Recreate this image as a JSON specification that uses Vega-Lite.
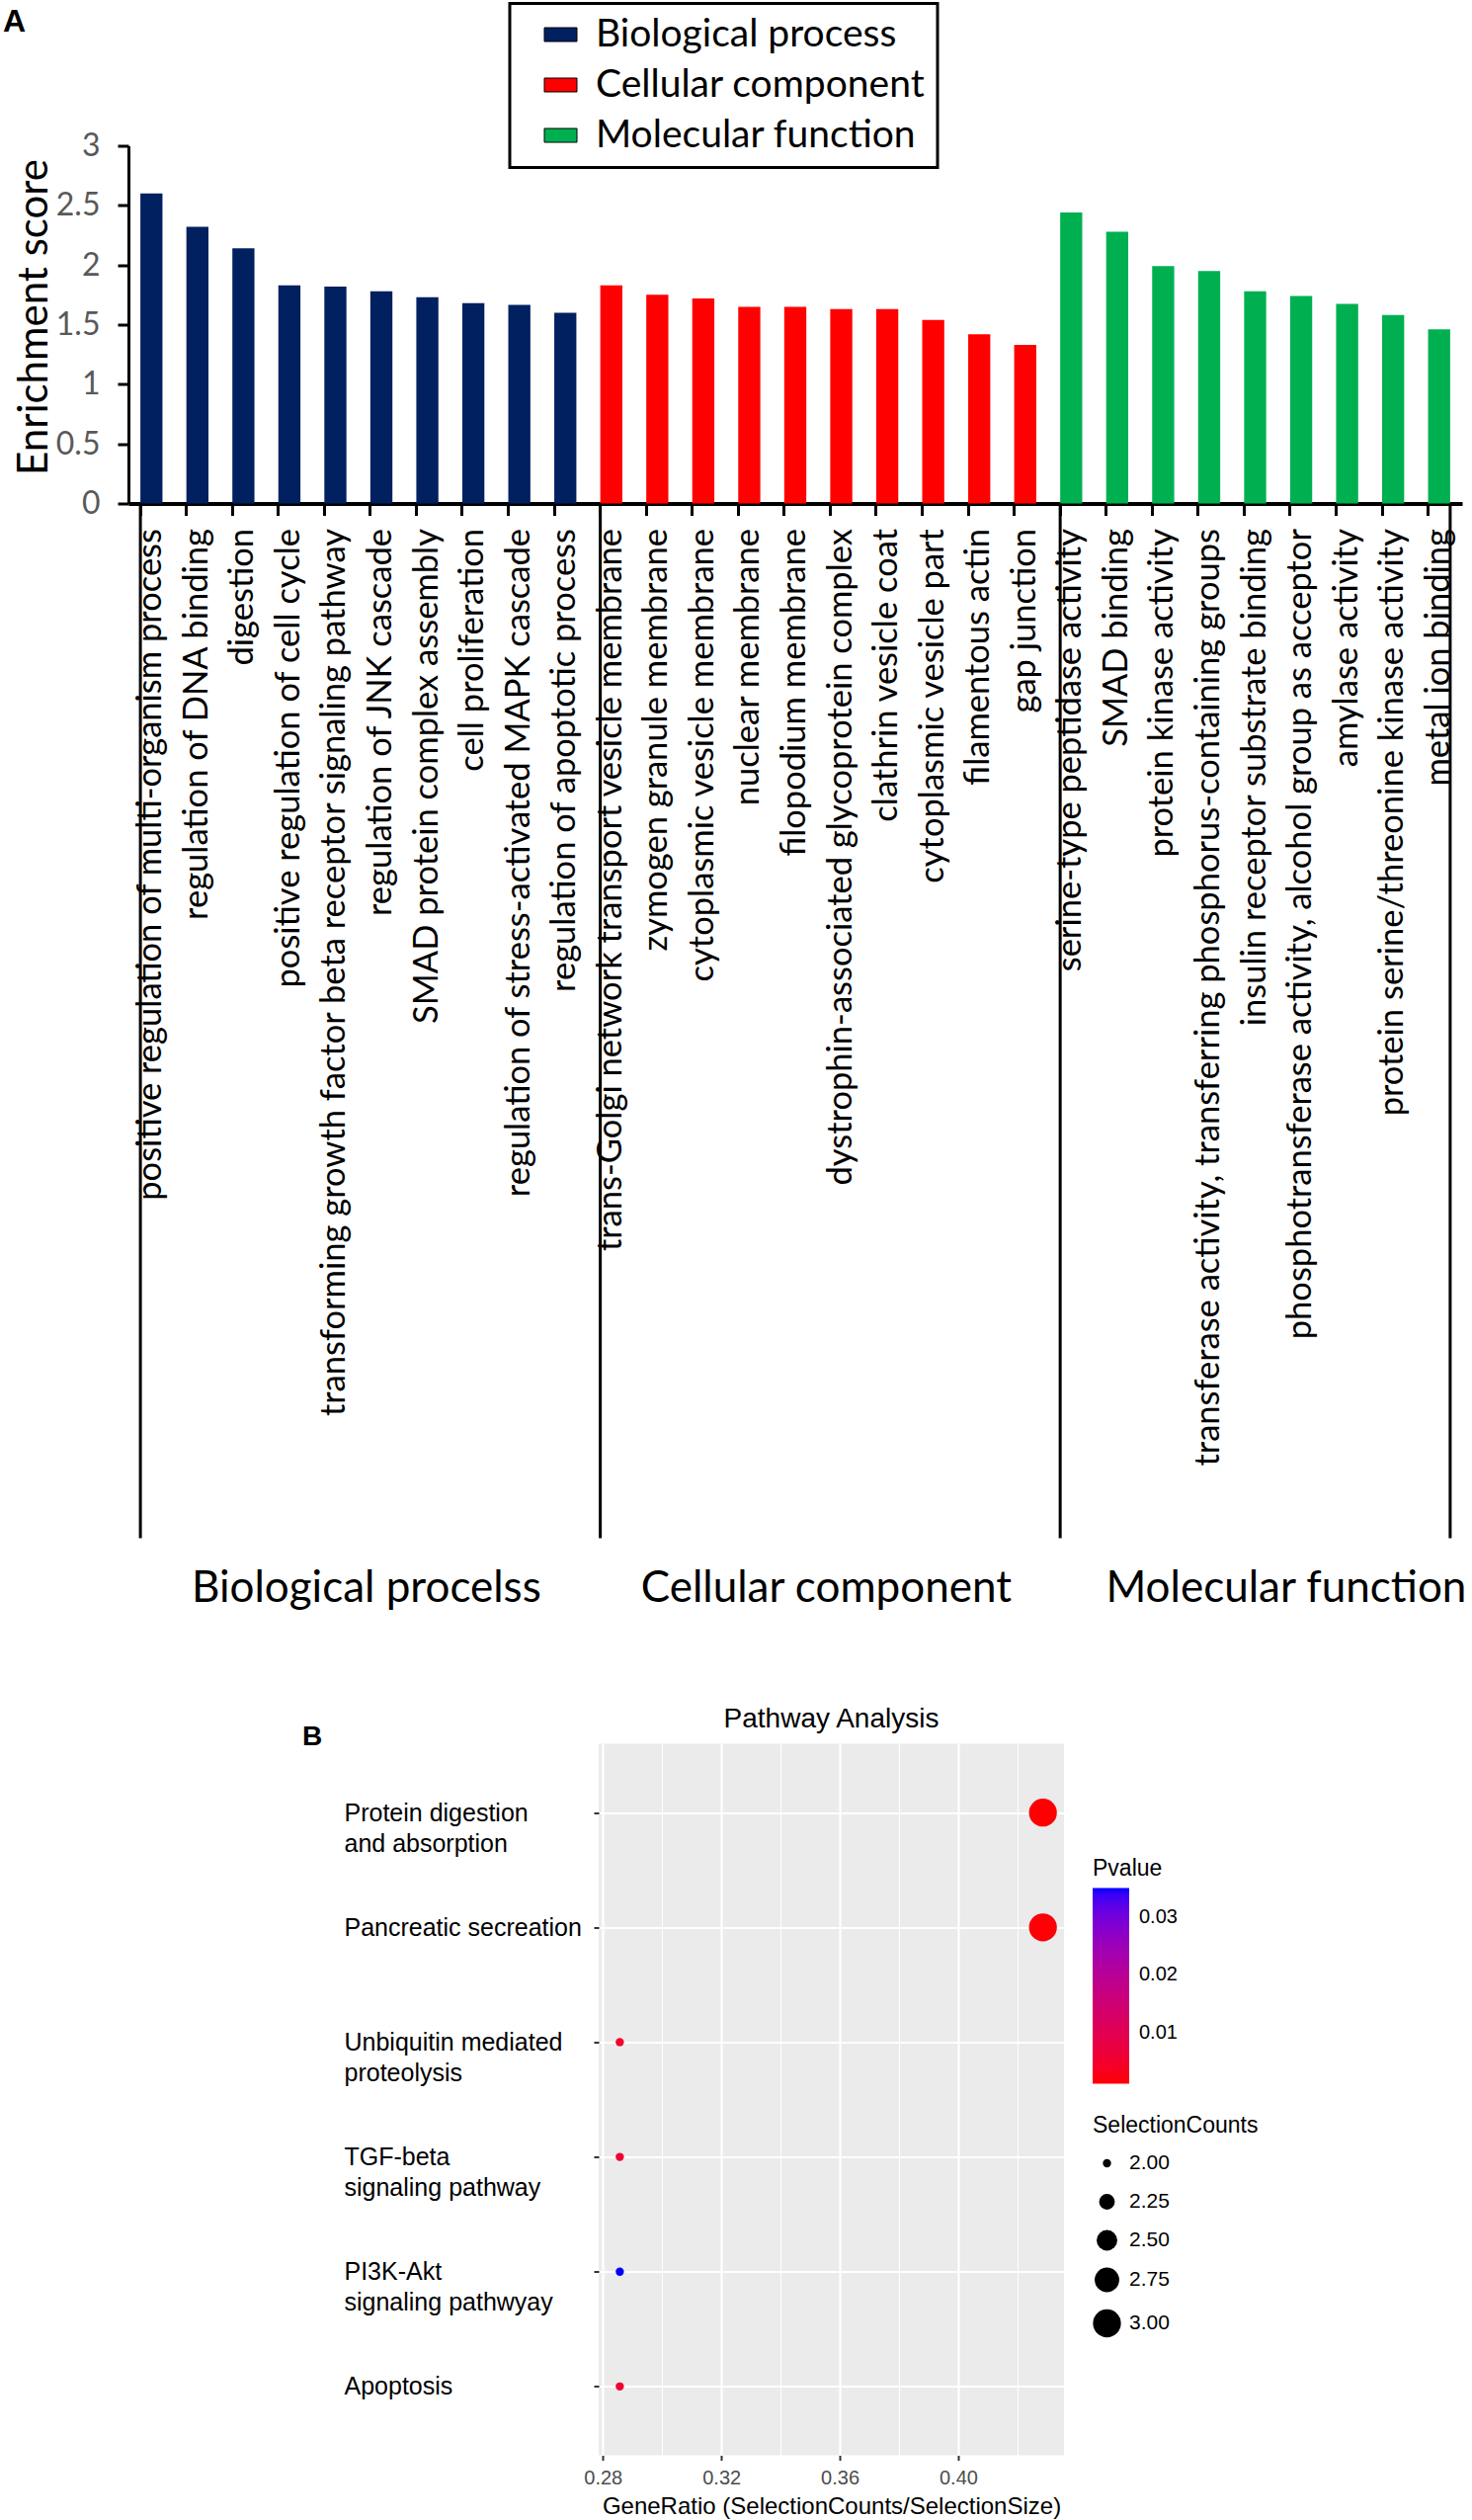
{
  "$schema": "https://vega.github.io/schema/vega-lite/v6.json",
  "background": "white",
  "padding": {"left": 3, "top": 1.5, "right": 0, "bottom": 0},
  "autosize": {"type": "pad"},
  "bounds": "flush",
  "spacing": 1255,
  "resolve": {"scale": {"color": "independent", "size": "independent"}, "legend": {"color": "independent", "size": "independent"}},
  "config": {"view": {"stroke": null}, "legend": {"strokeWidth": 3}},
  "vconcat": [
    {
      "width": 1350,
      "height": 362,
      "title": {"text": "A", "anchor": "start", "frame": "group", "font": "Liberation Sans", "fontSize": 32, "fontWeight": "bold", "color": "black", "baseline": "alphabetic", "offset": 0, "dx": -127, "dy": 62},
      "data": {"values": [
        {"term": "positive regulation of multi-organism process", "category": "Biological process", "score": 2.6},
        {"term": "regulation of DNA binding", "category": "Biological process", "score": 2.32},
        {"term": "digestion", "category": "Biological process", "score": 2.14},
        {"term": "positive regulation of cell cycle", "category": "Biological process", "score": 1.83},
        {"term": "transforming growth factor beta receptor signaling pathway", "category": "Biological process", "score": 1.82},
        {"term": "regulation of JNK cascade", "category": "Biological process", "score": 1.78, "header": "Biological procelss"},
        {"term": "SMAD protein complex assembly", "category": "Biological process", "score": 1.73},
        {"term": "cell proliferation", "category": "Biological process", "score": 1.68},
        {"term": "regulation of stress-activated MAPK cascade", "category": "Biological process", "score": 1.665},
        {"term": "regulation of apoptotic process", "category": "Biological process", "score": 1.6},
        {"term": "trans-Golgi network transport vesicle membrane", "category": "Cellular component", "score": 1.83},
        {"term": "zymogen granule membrane", "category": "Cellular component", "score": 1.75},
        {"term": "cytoplasmic vesicle membrane", "category": "Cellular component", "score": 1.72},
        {"term": "nuclear membrane", "category": "Cellular component", "score": 1.65},
        {"term": "filopodium membrane", "category": "Cellular component", "score": 1.65},
        {"term": "dystrophin-associated glycoprotein complex", "category": "Cellular component", "score": 1.63, "header": "Cellular component"},
        {"term": "clathrin vesicle coat", "category": "Cellular component", "score": 1.63},
        {"term": "cytoplasmic vesicle part", "category": "Cellular component", "score": 1.54},
        {"term": "filamentous actin", "category": "Cellular component", "score": 1.42},
        {"term": "gap junction", "category": "Cellular component", "score": 1.33},
        {"term": "serine-type peptidase activity", "category": "Molecular function", "score": 2.44},
        {"term": "SMAD binding", "category": "Molecular function", "score": 2.28},
        {"term": "protein kinase activity", "category": "Molecular function", "score": 1.99},
        {"term": "transferase activity, transferring phosphorus-containing groups", "category": "Molecular function", "score": 1.95},
        {"term": "insulin receptor substrate binding", "category": "Molecular function", "score": 1.78},
        {"term": "phosphotransferase activity, alcohol group as acceptor", "category": "Molecular function", "score": 1.74, "header": "Molecular function"},
        {"term": "amylase activity", "category": "Molecular function", "score": 1.675},
        {"term": "protein serine/threonine kinase activity", "category": "Molecular function", "score": 1.58},
        {"term": "metal ion binding", "category": "Molecular function", "score": 1.46}
      ]},
      "layer": [
        {
          "mark": {"type": "bar"},
          "encoding": {
            "x": {
              "field": "term", "type": "nominal", "sort": null, "title": null,
              "scale": {"paddingInner": 0.52, "paddingOuter": 0.26},
              "axis": {"labelAngle": -90, "labelFont": "Lato", "labelFontSize": 34.5, "labelColor": "black", "labelLimit": 0, "labelPadding": 13, "tickSize": 12, "tickWidth": 3, "tickColor": "black", "domainColor": "black", "domainWidth": 4, "bandPosition": 0}
            },
            "y": {
              "field": "score", "type": "quantitative",
              "scale": {"domain": [0, 3], "nice": false},
              "axis": {"title": "Enrichment score", "values": [0, 0.5, 1, 1.5, 2, 2.5, 3], "format": "~g", "labelFont": "Lato", "labelFontSize": 32, "labelColor": "#595959", "labelPadding": 18, "tickSize": 11, "tickWidth": 3, "tickColor": "black", "domainColor": "black", "domainWidth": 3, "grid": false, "titleFont": "Lato", "titleFontSize": 42, "titleFontWeight": "normal", "titleColor": "black", "titlePadding": 0, "titleY": 173, "titleAlign": "center", "titleAngle": 270}
            },
            "color": {
              "field": "category", "type": "nominal",
              "scale": {"domain": ["Biological process", "Cellular component", "Molecular function"], "range": ["#002060", "#FF0000", "#00B050"]},
              "legend": {"orient": "none", "legendX": 386, "legendY": -144, "title": null, "direction": "vertical", "symbolType": "M-1,-0.424H1V0.424H-1Z", "symbolSize": 1089, "symbolStrokeColor": "black", "symbolStrokeWidth": 1, "labelFont": "Lato", "labelFontSize": 39, "labelColor": "black", "labelOffset": 16, "labelLimit": 0, "rowPadding": 11, "padding": 12, "symbolOffset": 20, "strokeColor": "black"}
            }
          }
        },
        {
          "transform": [{"filter": {"field": "term", "oneOf": ["positive regulation of multi-organism process", "trans-Golgi network transport vesicle membrane", "serine-type peptidase activity"]}}],
          "mark": {"type": "rule", "color": "black", "strokeWidth": 3},
          "encoding": {
            "x": {"field": "term", "type": "nominal", "sort": null, "bandPosition": 0, "title": null},
            "y": {"datum": 0},
            "y2": {"datum": -8.676}
          }
        },
        {
          "transform": [{"filter": {"field": "term", "equal": "metal ion binding"}}],
          "mark": {"type": "rule", "color": "black", "strokeWidth": 3},
          "encoding": {
            "x": {"field": "term", "type": "nominal", "sort": null, "bandPosition": 1, "title": null},
            "y": {"datum": 0},
            "y2": {"datum": -8.676}
          }
        },
        {
          "transform": [{"filter": "isValid(datum.header)"}],
          "mark": {"type": "text", "font": "Lato", "fontSize": 44, "color": "black", "align": "center", "baseline": "alphabetic", "dx": -4},
          "encoding": {
            "x": {"field": "term", "type": "nominal", "sort": null, "bandPosition": 0, "title": null},
            "y": {"datum": -9.215},
            "text": {"field": "header"}
          }
        }
      ]
    },
    {
      "bounds": "flush",
      "spacing": 466,
      "resolve": {"scale": {"color": "independent", "size": "independent"}, "legend": {"color": "independent", "size": "independent"}},
      "hconcat": [
        {
          "width": 10,
          "height": 10,
          "title": {"text": "B", "anchor": "start", "frame": "group", "font": "Liberation Sans", "fontSize": 28, "fontWeight": "bold", "color": "black", "baseline": "alphabetic", "offset": 0, "dx": 176, "dy": 29},
          "data": {"values": []},
          "mark": "point"
        },
        {
          "width": 471,
          "height": 720,
          "title": {"text": "Pathway Analysis", "anchor": "middle", "frame": "group", "font": "Liberation Sans", "fontSize": 28, "fontWeight": "normal", "color": "black", "baseline": "alphabetic", "offset": 14, "dy": 25},
          "view": {"fill": "#EBEBEB", "stroke": null},
          "data": {"values": [
            {"pathway": "Protein digestion|and absorption", "ratio": 0.4286, "count": 3, "pvalue": 0.0012},
            {"pathway": "Pancreatic secreation", "ratio": 0.4286, "count": 3, "pvalue": 0.0015},
            {"pathway": "Unbiquitin mediated|proteolysis", "ratio": 0.2857, "count": 2, "pvalue": 0.005},
            {"pathway": "TGF-beta|signaling pathway", "ratio": 0.2857, "count": 2, "pvalue": 0.0052},
            {"pathway": "PI3K-Akt|signaling pathwyay", "ratio": 0.2857, "count": 2, "pvalue": 0.035},
            {"pathway": "Apoptosis", "ratio": 0.2857, "count": 2, "pvalue": 0.0055}
          ]},
          "mark": {"type": "circle", "opacity": 1},
          "encoding": {
            "x": {
              "field": "ratio", "type": "quantitative",
              "scale": {"domain": [0.27857, 0.43571], "nice": false, "zero": false},
              "axis": {
                "values": [0.28, 0.30, 0.32, 0.34, 0.36, 0.38, 0.40, 0.42],
                "labelExpr": "round(datum.value*100) % 4 == 0 ? format(datum.value, '.2f') : ''",
                "grid": true, "gridColor": "white",
                "gridWidth": {"condition": {"test": "round(datum.value*100) % 4 == 0", "value": 2.2}, "value": 1.1},
                "tickOpacity": {"condition": {"test": "round(datum.value*100) % 4 == 0", "value": 1}, "value": 0},
                "tickColor": "#333333", "tickSize": 5, "tickWidth": 2, "domain": false,
                "labelFont": "Liberation Sans", "labelFontSize": 20, "labelColor": "#4D4D4D", "labelPadding": 8,
                "title": "GeneRatio (SelectionCounts/SelectionSize)", "titleFont": "Liberation Sans", "titleFontSize": 24, "titleFontWeight": "normal", "titleColor": "black", "titlePadding": 7
              }
            },
            "y": {
              "field": "pathway", "type": "nominal", "sort": null,
              "scale": {"type": "point", "padding": 0.6},
              "axis": {"title": null, "labelExpr": "split(datum.label, '|')", "labelAlign": "left", "labelBaseline": "top", "labelPadding": 253, "labelOffset": -12, "labelFont": "Liberation Sans", "labelFontSize": 25, "labelColor": "black", "labelLineHeight": 31, "labelLimit": 0, "tickSize": 5, "tickColor": "#333333", "tickWidth": 2, "domain": false, "grid": true, "gridColor": "white", "gridWidth": 2.2}
            },
            "size": {
              "field": "count", "type": "quantitative",
              "scale": {"domain": [2, 3], "range": [70, 800], "zero": false},
              "legend": {"orient": "none", "legendX": 500, "legendY": 375, "title": "SelectionCounts", "titleFont": "Liberation Sans", "titleFontSize": 23, "titleFontWeight": "normal", "titleColor": "black", "titlePadding": 16, "values": [2, 2.25, 2.5, 2.75, 3], "format": ".2f", "symbolFillColor": "black", "symbolStrokeWidth": 0, "symbolOpacity": 1, "labelFont": "Liberation Sans", "labelFontSize": 21, "labelColor": "black", "labelOffset": 8, "rowPadding": 17}
            },
            "color": {
              "field": "pvalue", "type": "quantitative",
              "scale": {"domain": [0.0012, 0.035], "range": ["#FF0000", "#0000FF"], "interpolate": "lab"},
              "legend": {"orient": "none", "legendX": 500, "legendY": 115, "title": "Pvalue", "titleFont": "Liberation Sans", "titleFontSize": 23, "titleFontWeight": "normal", "titleColor": "black", "titlePadding": 8, "gradientLength": 198, "gradientThickness": 37, "gradientStrokeWidth": 0, "values": [0.01, 0.02, 0.03], "format": ".2f", "labelFont": "Liberation Sans", "labelFontSize": 20, "labelColor": "black", "labelOffset": 10, "direction": "vertical"}
            }
          }
        }
      ]
    }
  ]
}
